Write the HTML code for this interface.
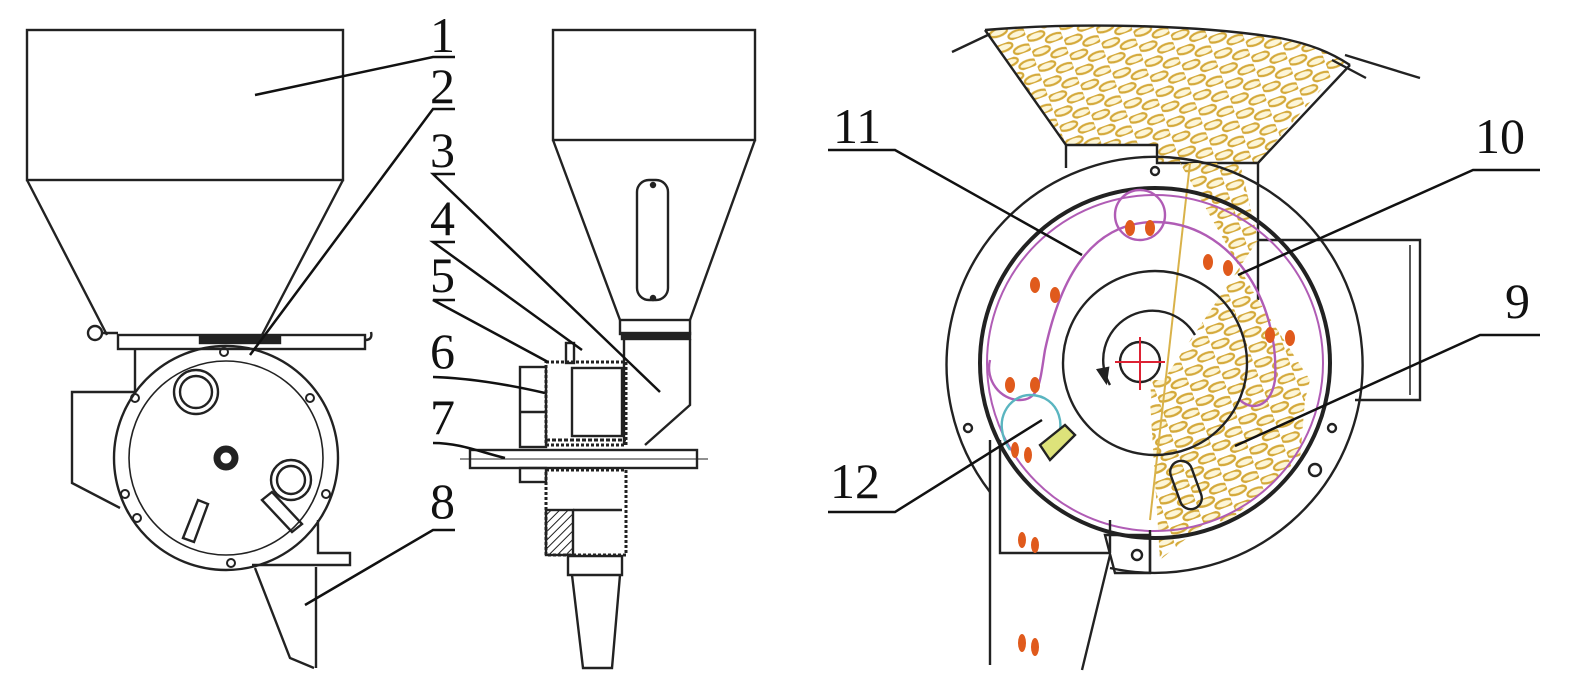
<!DOCTYPE html>
<html><head><meta charset="utf-8"><style>
html,body{margin:0;padding:0;background:#fff;}
svg{display:block}
text{font-family:"Liberation Serif",serif;font-size:50px;fill:#111}
</style></head><body>
<svg width="1575" height="680" viewBox="0 0 1575 680" xmlns="http://www.w3.org/2000/svg">
<defs>
<pattern id="grain" width="34" height="16" patternUnits="userSpaceOnUse" patternTransform="rotate(-20)">
<ellipse cx="9" cy="4" rx="9" ry="3.8" fill="#fdf6d8" stroke="#d4a93a" stroke-width="2.2"/>
<ellipse cx="26" cy="12" rx="9" ry="3.8" fill="#fdf6d8" stroke="#d4a93a" stroke-width="2.2"/>
</pattern>
<pattern id="hatch" width="6" height="6" patternUnits="userSpaceOnUse" patternTransform="rotate(45)">
<line x1="0" y1="0" x2="0" y2="6" stroke="#222" stroke-width="2"/>
</pattern>
</defs>
<g fill="none" stroke="#222" stroke-width="2.4">
<!-- LEFT VIEW -->
<rect x="27" y="30" width="316" height="150"/>
<path d="M27 180 L107 335 M343 180 L262 335"/>
<rect x="118" y="335" width="247" height="14"/>
<rect x="200" y="337" width="80" height="6" fill="#222"/>
<circle cx="95" cy="333" r="7"/>
<path d="M102 333 H118 M365 340 q8 0 6 -8"/>
<path d="M135 349 V392 H72 V483 L120 508"/>
<circle cx="226" cy="458" r="112"/>
<circle cx="226" cy="458" r="97" stroke-width="1.6"/>
<circle cx="226" cy="458" r="9" stroke-width="7"/>
<circle cx="196" cy="392" r="22"/><circle cx="196" cy="392" r="16"/>
<circle cx="291" cy="480" r="20"/><circle cx="291" cy="480" r="14"/>
<path d="M262 500 l30 32 l10 -8 l-30 -32 z"/>
<path d="M183 538 l15 -38 l10 4 l-14 38 z"/>
<g stroke-width="2"><circle cx="135" cy="398" r="4"/><circle cx="310" cy="398" r="4"/><circle cx="125" cy="494" r="4"/><circle cx="326" cy="494" r="4"/><circle cx="231" cy="563" r="4"/><circle cx="224" cy="352" r="4"/><circle cx="137" cy="518" r="4"/></g>
<path d="M318 520 V553 H350 V565 H252"/>
<path d="M255 568 L290 658 L314 668 M316 567 V668"/>
<!-- MIDDLE VIEW -->
<rect x="553" y="30" width="202" height="110"/>
<path d="M553 140 L620 320 M755 140 L690 320"/>
<rect x="637" y="180" width="31" height="120" rx="12"/>
<circle cx="653" cy="185" r="2" fill="#222"/><circle cx="653" cy="298" r="2" fill="#222"/>
<rect x="620" y="320" width="70" height="14"/>
<rect x="622" y="333" width="68" height="6" fill="#222"/>
<path d="M624 339 V445 M690 339 V405 L645 445"/>
<rect x="546" y="362" width="80" height="83" stroke-dasharray="3 2" stroke-width="3"/>
<rect x="572" y="368" width="50" height="68"/>
<rect x="566" y="343" width="8" height="20"/>
<rect x="520" y="367" width="26" height="80"/>
<path d="M520 412 H546"/>
<rect x="470" y="450" width="227" height="18"/>
<path d="M460 459 H708" stroke-width="1"/>
<rect x="520" y="468" width="26" height="14"/>
<rect x="546" y="470" width="80" height="85" stroke-dasharray="3 2" stroke-width="3"/>
<rect x="546" y="510" width="27" height="45" fill="url(#hatch)"/>
<path d="M573 510 H622 M568 556 H622 V575 H568 Z"/>
<path d="M572 575 L583 668 H612 L620 575"/>
<path d="M546 440 H626" stroke-dasharray="4 2" stroke-width="3"/>
<!-- RIGHT VIEW -->
<path d="M985 30 C1080 22 1200 25 1280 38 C1310 44 1330 52 1345 62 L1258 162 H1157 V145 H1066 Z" fill="url(#grain)" stroke="none"/>
<path d="M985 30 C1080 22 1200 25 1280 38 C1310 44 1330 52 1350 65"/>
<path d="M952 52 L990 34 M985 30 L1066 145 H1157 V163 H1258 L1350 65 M1332 60 L1366 78 M1345 55 L1420 78"/>
<path d="M1066 145 V168 M1258 163 V240 H1420 V400 H1355 M1258 240 V300"/>
<path d="M1410 245 V395" stroke-width="1.5"/>
<path d="M1180 163 L1240 163 L1258 240 L1150 400 L1160 560 L1258 480 L1300 420 L1310 380 L1258 300 Z" fill="url(#grain)" stroke="none"/>
<path d="M1150 380 C1200 380 1260 385 1305 400 L1300 460 L1230 520 L1160 530 Z" fill="url(#grain)" stroke="none"/>
<path d="M1190 163 L1150 520" stroke="#d9b24a" stroke-width="2"/>
<path d="M990 492 A208 208 0 1 1 1110 568"/>
<circle cx="1155" cy="363" r="175" stroke-width="4"/>
<circle cx="1155" cy="363" r="168" stroke="#b05cb5" stroke-width="2"/>
<path d="M1155 222 C1230 222 1280 300 1275 380 C1270 410 1250 410 1240 400" stroke="#b05cb5"/>
<path d="M1155 222 C1090 222 1060 280 1045 350 C1040 380 1040 400 1020 400 C1000 400 985 380 990 360" stroke="#b05cb5"/>
<circle cx="1140" cy="215" r="25" stroke="#b05cb5"/>
<path d="M1010 450 C990 420 1010 395 1030 395 C1060 395 1070 430 1050 450" stroke="#5ab5c0"/>
<circle cx="1155" cy="363" r="92"/>
<circle cx="1140" cy="362" r="20"/>
<path d="M1115 362 H1165 M1140 337 V390" stroke="#d23" stroke-width="2"/>
<path d="M1110 385 A40 40 0 0 1 1195 335"/>
<path d="M1098 370 l8 12 l2 -14 z" fill="#222"/>
<path d="M990 440 V665 M1000 440 V553 H1110 M1110 555 L1082 670"/>
<path d="M1110 520 V553 M1150 530 V573"/>
<path d="M1105 535 H1150 V573 H1115 Z"/>
<circle cx="1137" cy="555" r="5"/>
<circle cx="1155" cy="171" r="4"/><circle cx="968" cy="428" r="4"/><circle cx="1332" cy="428" r="4"/><circle cx="1315" cy="470" r="6"/>
<rect x="1175" y="460" width="22" height="50" rx="11" transform="rotate(-20 1186 485)"/>
<path d="M1040 445 l25 -20 l10 10 l-25 25 z" fill="#dde27a"/>
<g fill="#e05a1c" stroke="none">
<ellipse cx="1130" cy="228" rx="5" ry="8"/><ellipse cx="1150" cy="228" rx="5" ry="8"/>
<ellipse cx="1208" cy="262" rx="5" ry="8"/><ellipse cx="1228" cy="268" rx="5" ry="8"/>
<ellipse cx="1035" cy="285" rx="5" ry="8"/><ellipse cx="1055" cy="295" rx="5" ry="8"/>
<ellipse cx="1270" cy="335" rx="5" ry="8"/><ellipse cx="1290" cy="338" rx="5" ry="8"/>
<ellipse cx="1010" cy="385" rx="5" ry="8"/><ellipse cx="1035" cy="385" rx="5" ry="8"/>
<ellipse cx="1015" cy="450" rx="4" ry="8"/><ellipse cx="1028" cy="455" rx="4" ry="8"/>
<ellipse cx="1022" cy="540" rx="4" ry="8"/><ellipse cx="1035" cy="545" rx="4" ry="8"/>
<ellipse cx="1022" cy="643" rx="4" ry="9"/><ellipse cx="1035" cy="647" rx="4" ry="9"/>
</g>
</g>
<g fill="none" stroke="#111" stroke-width="2.5">
<path d="M455 57 H433 L255 95"/>
<path d="M455 109 H433 L250 355"/>
<path d="M455 174 H433 L660 392"/>
<path d="M455 242 H433 L582 350"/>
<path d="M455 300 H433 L548 362"/>
<path d="M433 377 C470 378 510 385 545 393"/>
<path d="M433 443 C460 443 480 452 505 458"/>
<path d="M455 530 H433 L305 605"/>
<path d="M828 150 H895 L1082 255"/>
<path d="M1540 170 H1473 L1238 275"/>
<path d="M1540 335 H1480 L1235 446"/>
<path d="M828 512 H895 L1042 420"/>
</g>
<text x="430" y="52">1</text>
<text x="430" y="103">2</text>
<text x="430" y="167">3</text>
<text x="430" y="235">4</text>
<text x="430" y="292">5</text>
<text x="430" y="368">6</text>
<text x="430" y="434">7</text>
<text x="430" y="518">8</text>
<text x="833" y="143">11</text>
<text x="1475" y="153">10</text>
<text x="1505" y="318">9</text>
<text x="830" y="498">12</text>
</svg>
</body></html>
